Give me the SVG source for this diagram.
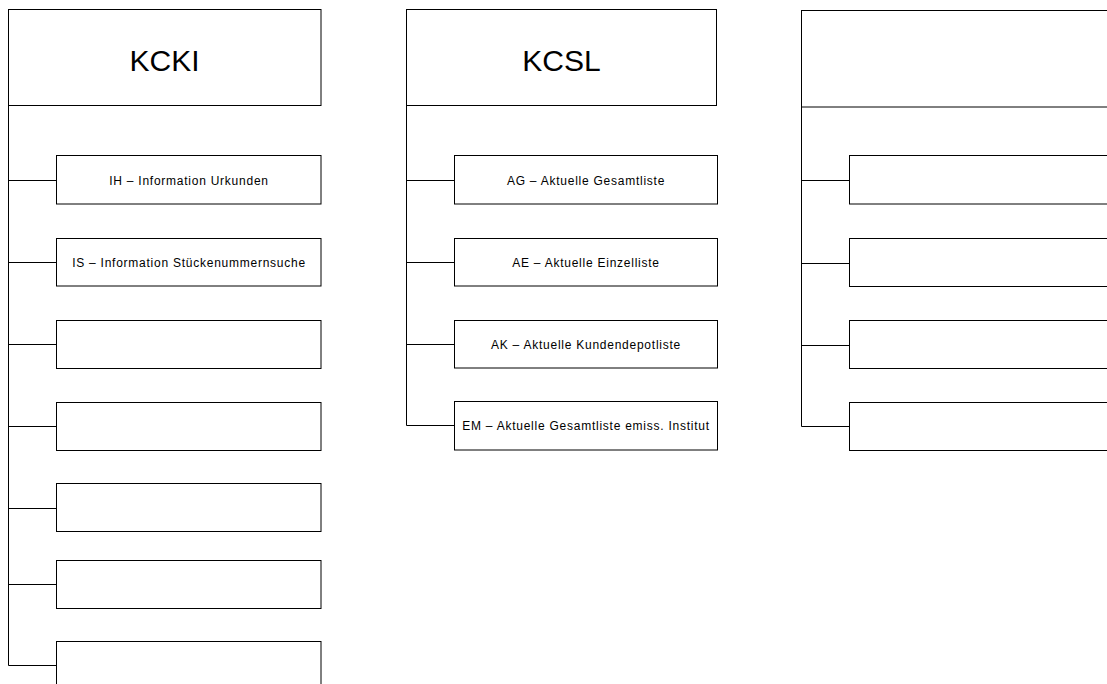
<svg xmlns="http://www.w3.org/2000/svg" width="1107" height="684" viewBox="0 0 1107 684">
  <style>
    .box { fill: #ffffff; stroke: #000000; stroke-width: 1; }
    .wire { fill: none; stroke: #000000; stroke-width: 1; }
    .title { font-family: "Liberation Sans", Arial, sans-serif; font-size: 30px; fill: #000000; text-anchor: middle; }
    .item { font-family: "Liberation Sans", Arial, sans-serif; font-size: 12px; letter-spacing: 0.75px; fill: #000000; text-anchor: middle; }
  </style>

  <rect width="1107" height="684" fill="#ffffff"/>

  <!-- tree connectors: one trunk per column with a branch to each entry -->
  <g id="connectors">
    <path class="wire" d="M8.5,57.5 V665.5 H56.5 M8.5,180.5 H56.5 M8.5,262.5 H56.5 M8.5,344.5 H56.5 M8.5,426.5 H56.5 M8.5,508.5 H56.5 M8.5,584.5 H56.5"/>
    <path class="wire" d="M406.5,57.5 V425.5 H454.5 M406.5,180.5 H454.5 M406.5,262.5 H454.5 M406.5,344.5 H454.5"/>
    <path class="wire" d="M801.5,58.5 V426.5 H849.5 M801.5,180.5 H849.5 M801.5,263.5 H849.5 M801.5,345.5 H849.5"/>
  </g>

  <!-- column KCKI -->
  <g id="kcki">
    <rect class="box" x="8.5" y="9.5" width="312.5" height="96"/>
    <text class="title" x="164.5" y="71">KCKI</text>
  </g>
  <g id="kcki-ih">
    <rect class="box" x="56.5" y="155.5" width="264.5" height="48.5"/>
    <text class="item" x="189" y="184.5">IH – Information Urkunden</text>
  </g>
  <g id="kcki-is">
    <rect class="box" x="56.5" y="238.5" width="264.5" height="47.5"/>
    <text class="item" x="189" y="266.5">IS – Information Stückenummernsuche</text>
  </g>
  <g id="kcki-3">
    <rect class="box" x="56.5" y="320.5" width="264.5" height="48"/>
  </g>
  <g id="kcki-4">
    <rect class="box" x="56.5" y="402.5" width="264.5" height="48"/>
  </g>
  <g id="kcki-5">
    <rect class="box" x="56.5" y="483.5" width="264.5" height="48"/>
  </g>
  <g id="kcki-6">
    <rect class="box" x="56.5" y="560.5" width="264.5" height="48"/>
  </g>
  <g id="kcki-7">
    <rect class="box" x="56.5" y="641.5" width="264.5" height="48"/>
  </g>

  <!-- column KCSL -->
  <g id="kcsl">
    <rect class="box" x="406.5" y="9.5" width="310" height="96"/>
    <text class="title" x="561.5" y="71">KCSL</text>
  </g>
  <g id="kcsl-ag">
    <rect class="box" x="454.5" y="155.5" width="263" height="48.5"/>
    <text class="item" x="586" y="184.5">AG – Aktuelle Gesamtliste</text>
  </g>
  <g id="kcsl-ae">
    <rect class="box" x="454.5" y="238.5" width="263" height="47.5"/>
    <text class="item" x="586" y="266.5">AE – Aktuelle Einzelliste</text>
  </g>
  <g id="kcsl-ak">
    <rect class="box" x="454.5" y="320.5" width="263" height="47.5"/>
    <text class="item" x="586" y="348.5">AK – Aktuelle Kundendepotliste</text>
  </g>
  <g id="kcsl-em">
    <rect class="box" x="454.5" y="401.5" width="263" height="48.5"/>
    <text class="item" x="586" y="429.5">EM – Aktuelle Gesamtliste emiss. Institut</text>
  </g>

  <!-- third column, running past the right edge -->
  <g id="col3">
    <rect class="box" x="801.5" y="10.5" width="320" height="96.5"/>
  </g>
  <g id="col3-1">
    <rect class="box" x="849.5" y="155.5" width="270" height="48.5"/>
  </g>
  <g id="col3-2">
    <rect class="box" x="849.5" y="238.5" width="270" height="48"/>
  </g>
  <g id="col3-3">
    <rect class="box" x="849.5" y="320.5" width="270" height="48"/>
  </g>
  <g id="col3-4">
    <rect class="box" x="849.5" y="402.5" width="270" height="48"/>
  </g>
</svg>
